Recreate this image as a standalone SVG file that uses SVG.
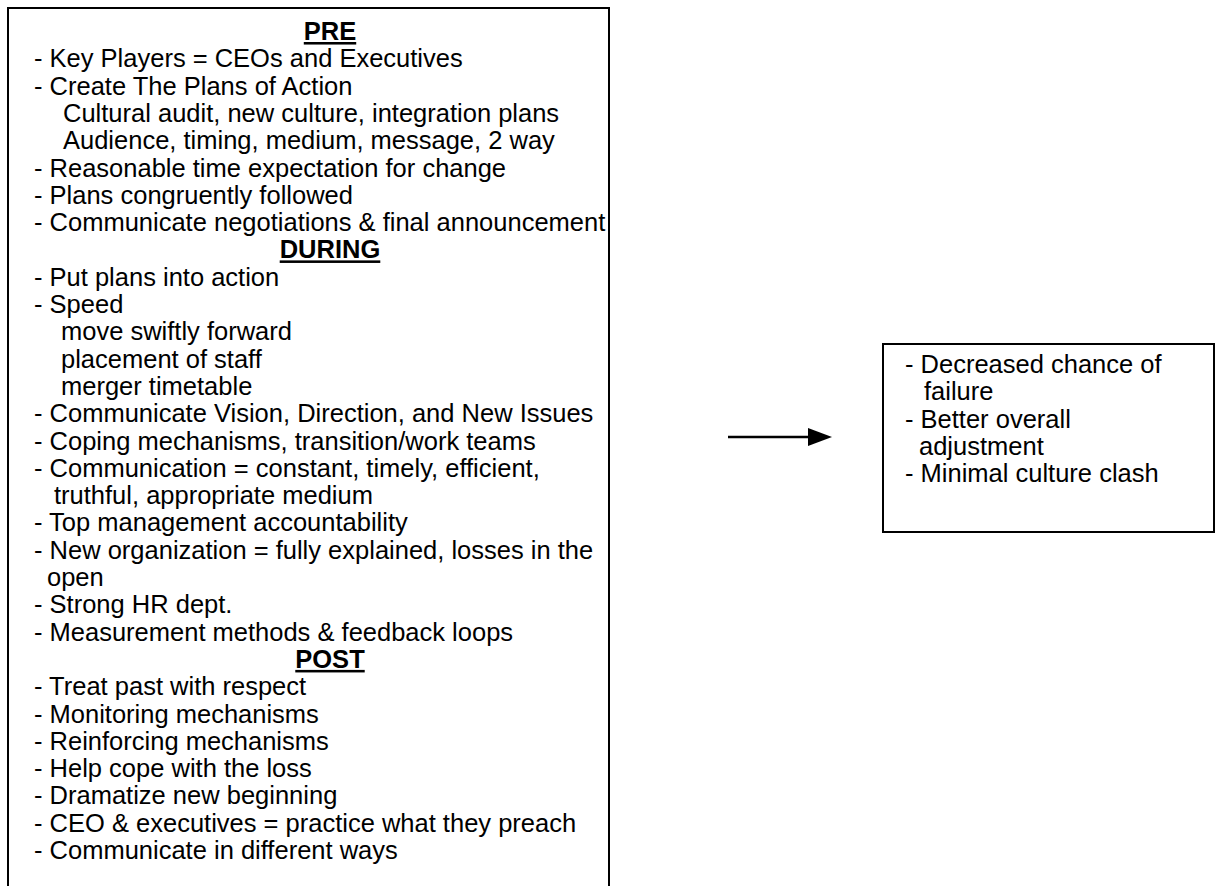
<svg xmlns="http://www.w3.org/2000/svg" width="1219" height="886" viewBox="0 0 1219 886">
  <style>
    .box { fill: #ffffff; stroke: #000000; stroke-width: 2; }
    .t { font-family: "Liberation Sans", Arial, sans-serif; font-size: 25.5px; fill: #000000; }
    .h { font-family: "Liberation Sans", Arial, sans-serif; font-size: 25.5px; font-weight: bold; fill: #000000; text-anchor: middle; text-decoration: underline; }
    .wire { stroke: #000000; stroke-width: 2.5; fill: none; }
  </style>
  <defs>
    <marker id="head" markerUnits="userSpaceOnUse" viewBox="0 0 24 18" refX="0" refY="9" markerWidth="24" markerHeight="18" orient="auto">
      <path d="M0,0 L24,9 L0,18 Z" fill="#000000"/>
    </marker>
  </defs>
  <rect width="1219" height="886" fill="#ffffff"/>

  <!-- Practices across the three merger stages -->
  <g id="stages">
    <rect class="box" x="8" y="8" width="601" height="900"/>
    <text class="h" x="330" y="40">PRE</text>
    <text class="t" x="34" y="67.3">- Key Players = CEOs and Executives</text>
    <text class="t" x="34" y="94.6">- Create The Plans of Action</text>
    <text class="t" x="63" y="121.9">Cultural audit, new culture, integration plans</text>
    <text class="t" x="63" y="149.2">Audience, timing, medium, message, 2 way</text>
    <text class="t" x="34" y="176.5">- Reasonable time expectation for change</text>
    <text class="t" x="34" y="203.8">- Plans congruently followed</text>
    <text class="t" x="34" y="231.1">- Communicate negotiations &amp; final announcement</text>
    <text class="h" x="330" y="258.4">DURING</text>
    <text class="t" x="34" y="285.7">- Put plans into action</text>
    <text class="t" x="34" y="313">- Speed</text>
    <text class="t" x="61" y="340.3">move swiftly forward</text>
    <text class="t" x="61" y="367.6">placement of staff</text>
    <text class="t" x="61" y="394.9">merger timetable</text>
    <text class="t" x="34" y="422.2">- Communicate Vision, Direction, and New Issues</text>
    <text class="t" x="34" y="449.5">- Coping mechanisms, transition/work teams</text>
    <text class="t" x="34" y="476.8">- Communication = constant, timely, efficient,</text>
    <text class="t" x="54" y="504.1">truthful, appropriate medium</text>
    <text class="t" x="34" y="531.4">- Top management accountability</text>
    <text class="t" x="34" y="558.7">- New organization = fully explained, losses in the</text>
    <text class="t" x="47" y="586">open</text>
    <text class="t" x="34" y="613.3">- Strong HR dept.</text>
    <text class="t" x="34" y="640.6">- Measurement methods &amp; feedback loops</text>
    <text class="h" x="330" y="667.9">POST</text>
    <text class="t" x="34" y="695.2">- Treat past with respect</text>
    <text class="t" x="34" y="722.5">- Monitoring mechanisms</text>
    <text class="t" x="34" y="749.8">- Reinforcing mechanisms</text>
    <text class="t" x="34" y="777.1">- Help cope with the loss</text>
    <text class="t" x="34" y="804.4">- Dramatize new beginning</text>
    <text class="t" x="34" y="831.7">- CEO &amp; executives = practice what they preach</text>
    <text class="t" x="34" y="859">- Communicate in different ways</text>
  </g>

  <!-- Outcomes -->
  <g id="outcomes">
    <rect class="box" x="883" y="344" width="331" height="188"/>
    <text class="t" x="905" y="373">- Decreased chance of</text>
    <text class="t" x="924" y="400.3">failure</text>
    <text class="t" x="905" y="427.6">- Better overall</text>
    <text class="t" x="919" y="454.9">adjustment</text>
    <text class="t" x="905" y="482.2">- Minimal culture clash</text>
  </g>

  <g id="connectors">
    <line class="wire" x1="728" y1="437" x2="808" y2="437" marker-end="url(#head)"/>
  </g>
</svg>
